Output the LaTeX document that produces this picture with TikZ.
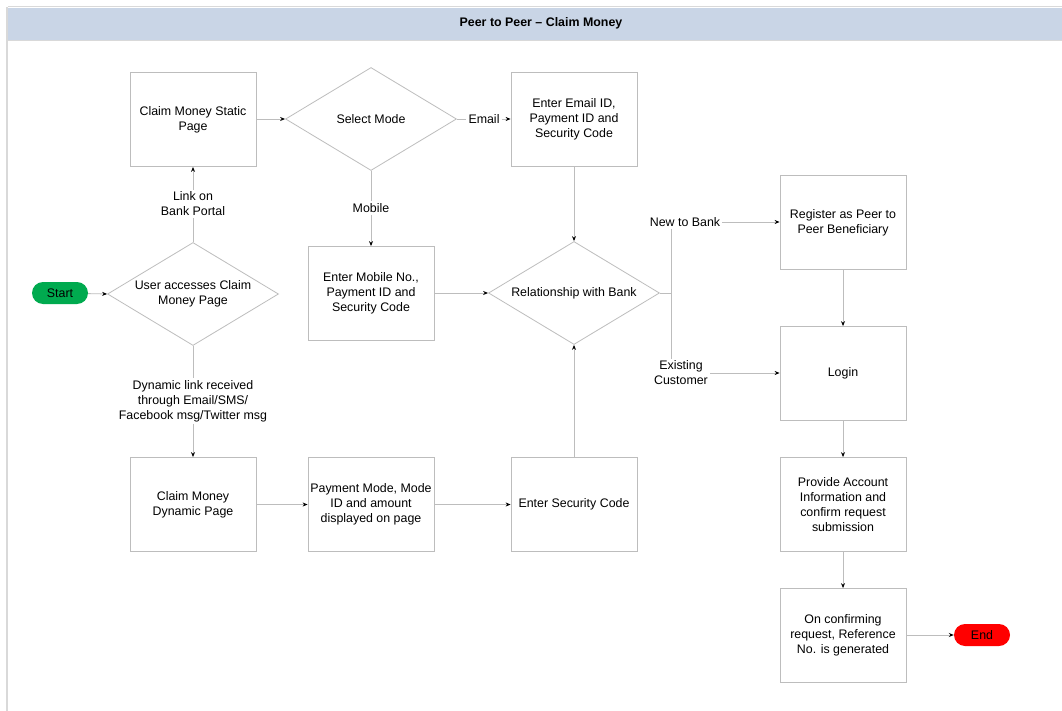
\documentclass[tikz,border=0pt]{standalone}
\usepackage{fontspec}
\setmainfont{Liberation Sans}
\usetikzlibrary{shapes.geometric,arrows.meta}
\definecolor{titleblue}{HTML}{C9D5E6}
\definecolor{startgreen}{HTML}{00AA4F}
\definecolor{linegray}{HTML}{BDBDBD}
\definecolor{framegray}{HTML}{D9D9D9}
\begin{document}
\begin{tikzpicture}[x=1pt,y=-1pt, font=\fontsize{12.4}{15}\selectfont,
 box/.style={draw=linegray, line width=0.8pt, minimum width=126pt, minimum height=94pt, align=center, inner sep=2pt},
 dia/.style={draw=linegray, line width=0.8pt, diamond, aspect=1.66, inner sep=0pt, minimum width=171pt, minimum height=103pt, align=center},
 pill/.style={rounded corners=11pt, minimum width=56pt, minimum height=22pt, inner sep=0pt},
 lbl/.style={inner sep=2pt, align=center},
 conn/.style={draw=linegray, line width=0.8pt, -{Stealth[length=5pt,width=4pt,color=black]}},
 plain/.style={draw=linegray, line width=0.8pt}]
\useasboundingbox (0,0) rectangle (1062,711);
\fill[white] (0,0) rectangle (1062,711);
\fill[titleblue] (8,8) rectangle (1062,40);
\draw[framegray, line width=1pt] (8,7) -- (1062,7);
\draw[framegray, line width=1pt] (8,41) -- (1062,41);
\draw[framegray, line width=2pt] (7,7) -- (7,711);
\node[font=\bfseries\fontsize{12.4}{15}\selectfont] (title) at (541,23) {Peer to Peer – Claim Money};

\node[pill, fill=startgreen] (start) at (60,293) {Start};
\node[dia] (user) at (193,294) {User accesses Claim\\Money Page};
\node[box] (static) at (193,119.5) {Claim Money Static\\Page};
\node[dia] (mode) at (371,119) {Select Mode};
\node[box] (email) at (574,119.5) {Enter Email ID,\\Payment ID and\\Security Code};
\node[box] (mobile) at (371,293.5) {Enter Mobile No.,\\Payment ID and\\Security Code};
\node[dia] (rel) at (574,293) {Relationship with Bank};
\node[box] (dyn) at (193,504.5) {Claim Money\\Dynamic Page};
\node[box] (pay) at (371,504.5) {Payment Mode, Mode\\ID and amount\\displayed on page};
\node[box] (sec) at (574,504.5) {Enter Security Code};
\node[box] (reg) at (843,222.5) {Register as Peer to\\Peer Beneficiary};
\node[box] (login) at (843,373.5) {Login};
\node[box] (prov) at (843,504.5) {Provide Account\\Information and\\confirm request\\submission};
\node[box] (conf) at (843,635.5) {On confirming\\request, Reference\\No. is generated};
\node[pill, fill=red] (end) at (982,635) {End};

\node[lbl] (l1) at (193,204) {Link on\\Bank Portal};
\node[lbl] (l2) at (193,401) {Dynamic link received\\through Email/SMS/\\Facebook msg/Twitter msg};
\node[lbl] (lemail) at (484,119) {Email};
\node[lbl] (lmob) at (371,208) {Mobile};
\node[lbl] (lnew) at (685,222) {New to Bank};
\node[lbl] (lex) at (681,373) {Existing\\Customer};
\coordinate (j) at (671,293);

\draw[conn] (start) -- (user.west);
\draw[plain] (user.north) -- (l1);
\draw[conn] (l1) -- (static.south);
\draw[plain] (user.south) -- (l2);
\draw[conn] (l2) -- (dyn.north);
\draw[conn] (static.east |- mode.west) -- (mode.west);
\draw[plain] (mode.east) -- (lemail);
\draw[conn] (lemail) -- (lemail -| email.west);
\draw[plain] (mode.south) -- (lmob);
\draw[conn] (lmob) -- (mobile.north);
\draw[conn] (email.south) -- (rel.north);
\draw[conn] (mobile.east |- rel.west) -- (rel.west);
\draw[conn] (dyn) -- (pay);
\draw[conn] (pay) -- (sec);
\draw[conn] (sec.north) -- (rel.south);
\draw[plain] (rel.east) -- (j) -- (lnew.south -| j);
\draw[conn] (lnew.east) -- (lnew.east -| reg.west);
\draw[plain] (j) -- (lex.north -| j);
\draw[conn] (lex.east) -- (lex.east -| login.west);
\draw[conn] (reg) -- (login);
\draw[conn] (login) -- (prov);
\draw[conn] (prov) -- (conf);
\draw[conn] (conf.east |- end.west) -- (end);
\end{tikzpicture}
\end{document}
